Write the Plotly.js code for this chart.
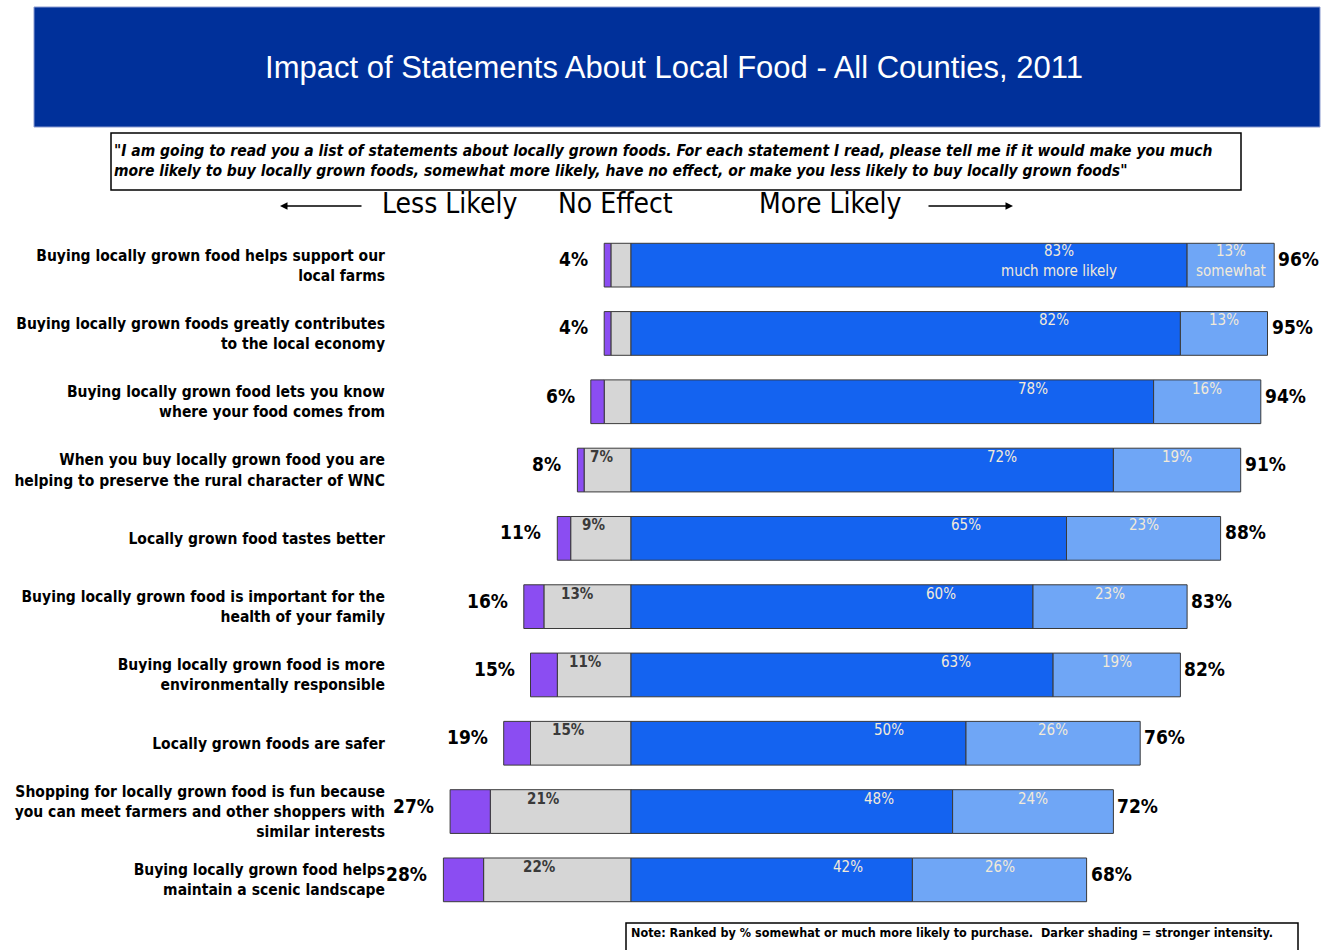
<!DOCTYPE html>
<html>
<head>
<meta charset="utf-8">
<script src="https://cdn.plot.ly/plotly-3.0.1.min.js"></script>
<style>html,body{margin:0;padding:0;background:#fff;}#chart{width:1325px;height:950px;}</style>
</head>
<body>
<div id="chart"></div>
<script>
// ---------- DATA ----------
const categories = [
  "Buying locally grown food helps support our<br>local farms",
  "Buying locally grown foods greatly contributes<br>to the local economy",
  "Buying locally grown food lets you know<br>where your food comes from",
  "When you buy locally grown food you are<br>helping to preserve the rural character of WNC",
  "Locally grown food tastes better",
  "Buying locally grown food is important for the<br>health of your family",
  "Buying locally grown food is more<br>environmentally responsible",
  "Locally grown foods are safer",
  "Shopping for locally grown food is fun because<br>you can meet farmers and other shoppers with<br>similar interests",
  "Buying locally grown food helps<br>maintain a scenic landscape"
];
const lessLikely   = [1, 1, 2, 1, 2, 3, 4, 4, 6, 6];
const noEffect     = [3, 3, 4, 7, 9, 13, 11, 15, 21, 22];
const muchMore     = [83, 82, 78, 72, 65, 60, 63, 50, 48, 42];
const somewhatMore = [13, 13, 16, 19, 23, 23, 19, 26, 24, 26];
const lessTotal    = [4, 4, 6, 8, 11, 16, 15, 19, 27, 28];
const moreTotal    = [96, 95, 94, 91, 88, 83, 82, 76, 72, 68];
const muchName = "much more likely";
const somewhatName = "somewhat";

const chartTitle = "Impact of Statements About Local Food - All Counties, 2011";
const questionText = "\"I am going to read you a list of statements about locally grown foods. For each statement I read, please tell me if it would make you much<br>more likely to buy locally grown foods, somewhat more likely, have no effect, or make you less likely to buy locally grown foods\"";
const headerLabels = ["Less Likely", "No Effect", "More Likely"];
const noteText = "Note: Ranked by % somewhat or much more likely to purchase.  Darker shading = stronger intensity.";

// ---------- LAYOUT HELPERS ----------
const W = 1325, H = 950;
const L = 395, R = 10, T = 231, B = 36;
const PW = W - L - R, PH = H - T - B;
const px = x => (x - L) / PW;
const py = y => (T + PH - y) / PH;

const NARROW = "'Liberation Sans Narrow', 'Arial Narrow', 'DejaVu Sans Condensed', sans-serif";
const SANS = "'Liberation Sans', Arial, sans-serif";

const lineCol = '#3a3a3a';
const traces = [
  {type:'bar', orientation:'h', name:'No Effect', y:categories, x:noEffect.map(v=>-v),
   marker:{color:'#d6d6d6', line:{color:lineCol, width:1}}, width:0.64, hoverinfo:'skip'},
  {type:'bar', orientation:'h', name:'Less Likely', y:categories, x:lessLikely.map(v=>-v),
   marker:{color:'#8b4df2', line:{color:lineCol, width:1}}, width:0.64, hoverinfo:'skip'},
  {type:'bar', orientation:'h', name:'Much More Likely', y:categories, x:muchMore,
   marker:{color:'#1463f0', line:{color:lineCol, width:1}}, width:0.64, hoverinfo:'skip'},
  {type:'bar', orientation:'h', name:'Somewhat More Likely', y:categories, x:somewhatMore,
   marker:{color:'#6fa6f6', line:{color:lineCol, width:1}}, width:0.64, hoverinfo:'skip'}
];

const annotations = [];
categories.forEach((c, i) => {
  // left totals
  annotations.push({xref:'x', yref:'y', x:-lessTotal[i], y:c, text:lessTotal[i]+'%', showarrow:false,
    xanchor:'right', xshift:-14, yshift:6, font:{family:NARROW, size:19, color:'#000', weight:'bold'}});
  // right totals
  annotations.push({xref:'x', yref:'y', x:moreTotal[i], y:c, text:moreTotal[i]+'%', showarrow:false,
    xanchor:'left', xshift:2, yshift:6, font:{family:NARROW, size:19, color:'#000', weight:'bold'}});
  // much more label
  annotations.push({xref:'x', yref:'y', x:muchMore[i]*0.77, y:c,
    text: i === 0 ? muchMore[i]+'%<br>'+muchName : muchMore[i]+'%', showarrow:false,
    xanchor:'center', yshift: i === 0 ? 4 : 13, font:{family:NARROW, size:15, color:'#f2ead8'}});
  // somewhat label
  annotations.push({xref:'x', yref:'y', x:muchMore[i] + somewhatMore[i]/2, y:c,
    text: i === 0 ? somewhatMore[i]+'%<br>'+somewhatName : somewhatMore[i]+'%', showarrow:false,
    xanchor:'center', yshift: i === 0 ? 4 : 13, font:{family:NARROW, size:15, color:'#f2ead8'}});
  // no effect label
  if (noEffect[i] >= 5) {
    annotations.push({xref:'x', yref:'y', x:-noEffect[i]*0.62, y:c, text:noEffect[i]+'%', showarrow:false,
      xanchor:'center', yshift:13, font:{family:NARROW, size:15, color:'#3a3a3a', weight:'bold'}});
  }
});

// question text
annotations.push({xref:'paper', yref:'paper', x:px(112), y:py(161), xanchor:'left', yanchor:'middle',
  text:'<i><b>'+questionText+'</b></i>', align:'left', showarrow:false,
  font:{family:NARROW, size:15.5, color:'#000'}});
// header labels
const headerX = [449, 615, 830];
headerLabels.forEach((t, k) => annotations.push({xref:'paper', yref:'paper', x:px(headerX[k]), y:py(203),
  xanchor:'center', yanchor:'middle', text:t, showarrow:false, font:{family:NARROW, size:28, color:'#000'}}));
// arrows
annotations.push({xref:'paper', yref:'paper', x:px(280), y:py(206), ax:83, ay:0, text:'', showarrow:true,
  arrowhead:2, arrowsize:1, arrowwidth:1.5, arrowcolor:'#000'});
annotations.push({xref:'paper', yref:'paper', x:px(1013), y:py(206), ax:-86, ay:0, text:'', showarrow:true,
  arrowhead:2, arrowsize:1, arrowwidth:1.5, arrowcolor:'#000'});
// note
annotations.push({xref:'paper', yref:'paper', x:px(629), y:py(932), xanchor:'left', yanchor:'middle',
  text:'<b>'+noteText+'</b>', showarrow:false, font:{family:NARROW, size:12.5, color:'#000'}});

const shapes = [
  {type:'rect', xref:'paper', yref:'paper', x0:px(34), x1:px(1320), y0:py(127), y1:py(7),
   fillcolor:'#00309a', line:{color:'#8a9ad0', width:1}, layer:'below'},
  {type:'rect', xref:'paper', yref:'paper', x0:px(111), x1:px(1241), y0:py(190), y1:py(133),
   fillcolor:'rgba(0,0,0,0)', line:{color:'#000', width:1.5}},
  {type:'rect', xref:'paper', yref:'paper', x0:px(626), x1:px(1298), y0:py(960), y1:py(923),
   fillcolor:'rgba(0,0,0,0)', line:{color:'#000', width:1.5}}
];

const layout = {
  width:W, height:H,
  margin:{l:L, r:R, t:T, b:B, pad:0},
  paper_bgcolor:'#fff', plot_bgcolor:'#fff',
  barmode:'relative', bargap:0.36,
  showlegend:false,
  title:{text:chartTitle, xref:'container', yref:'container', x:674/W, y:1-67/H, xanchor:'center', yanchor:'middle',
    font:{family:SANS, size:31, color:'#ffffff'}},
  xaxis:{range:[-(631-L)/6.7, (W-R-631)/6.7], visible:false, fixedrange:true},
  yaxis:{autorange:'reversed', showgrid:false, zeroline:false, showline:false, ticks:'',
    ticklabelstandoff:9, tickfont:{family:NARROW, size:15.5, color:'#000', weight:'bold'}, fixedrange:true},
  annotations:annotations,
  shapes:shapes
};

Plotly.newPlot('chart', traces, layout, {displayModeBar:false, staticPlot:true});
</script>
</body>
</html>
